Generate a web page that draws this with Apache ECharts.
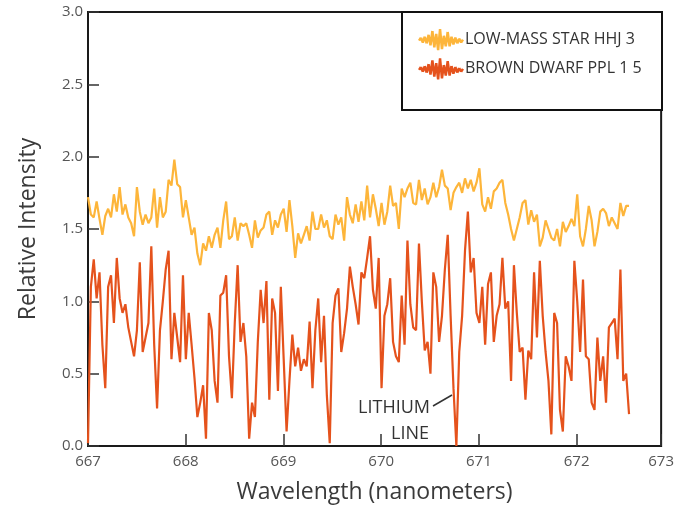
<!DOCTYPE html>
<html>
<head>
<meta charset="utf-8">
<script src="https://cdn.jsdelivr.net/npm/echarts@6/dist/echarts.min.js"></script>
<style>html,body{margin:0;padding:0;background:#fff}#c{width:677px;height:515px}</style>
</head>
<body>
<div id="c"></div>
<script>
// Sampling grid of the spectra (nm)
const waveStart = 667.0;
const waveStep = 0.02945;

const lowMassStar = [
1.72,1.60,1.58,1.69,1.57,1.46,1.59,1.64,1.58,1.74,1.62,1.79,1.60,1.67,1.58,1.54,1.45,1.79,1.62,1.53,1.60,1.54,1.58,1.78,1.51,1.72,1.58,1.62,1.84,1.80,1.98,1.81,1.79,1.58,1.70,
1.58,1.46,1.51,1.33,1.25,1.40,1.35,1.45,1.37,1.46,1.51,1.37,1.56,1.69,1.43,1.45,1.58,1.42,1.54,1.52,1.54,1.46,1.37,1.56,1.44,1.49,1.51,1.60,1.62,1.46,1.56,1.51,1.60,
1.64,1.48,1.70,1.52,1.30,1.47,1.40,1.46,1.52,1.42,1.62,1.50,1.50,1.60,1.51,1.56,1.45,1.43,1.60,1.53,1.58,1.42,1.72,1.60,1.54,1.67,1.55,1.69,1.56,1.80,1.58,1.74,1.64,
1.52,1.68,1.53,1.62,1.80,1.66,1.68,1.50,1.78,1.72,1.78,1.82,1.68,1.67,1.84,1.70,1.78,1.67,1.72,1.82,1.72,1.79,1.91,1.80,1.78,1.63,1.75,1.79,1.82,1.75,1.85,1.78,1.84,1.76,
1.82,1.92,1.67,1.62,1.72,1.64,1.76,1.78,1.82,1.84,1.68,1.60,1.50,1.42,1.50,1.58,1.68,1.70,1.53,1.63,1.55,1.60,1.38,1.44,1.56,1.50,1.44,1.42,1.50,1.38,1.55,1.48,1.52,
1.57,1.52,1.74,1.45,1.38,1.50,1.66,1.56,1.38,1.48,1.62,1.64,1.61,1.52,1.58,1.54,1.50,1.68,1.59,1.66,1.66
];

const brownDwarf = [
0.02,1.10,1.29,1.02,1.20,0.70,0.40,1.10,1.18,0.85,1.30,1.02,0.92,0.98,0.82,0.72,0.62,0.80,1.27,0.65,0.75,0.85,1.38,0.70,0.26,0.80,1.00,1.22,1.35,0.60,0.92,0.75,0.58,1.18,0.60,
0.92,0.70,0.47,0.20,0.30,0.42,0.05,0.92,0.80,0.45,0.30,1.04,1.06,1.18,0.62,0.33,0.85,1.25,0.72,0.85,0.62,0.05,0.30,0.20,0.72,1.08,0.85,1.14,0.32,1.02,0.92,0.38,1.10,
0.60,0.10,0.45,0.77,0.55,0.68,0.52,0.60,0.55,0.86,0.40,0.80,1.02,0.58,0.90,0.35,0.02,0.85,1.04,1.09,0.65,0.78,0.95,1.24,1.10,0.98,0.84,1.20,1.16,1.30,1.45,1.08,0.95,
1.30,0.40,0.90,0.98,1.16,0.72,0.62,0.58,1.04,0.70,1.42,0.98,0.82,0.80,1.40,1.00,0.66,0.72,0.50,1.20,1.10,0.72,0.90,1.22,1.46,0.90,0.40,0.00,0.65,0.90,1.35,1.62,1.20,1.30,
0.92,0.85,1.10,0.70,1.12,1.20,0.72,0.90,0.98,1.30,0.95,1.00,0.45,1.25,0.92,0.65,0.68,0.32,0.66,0.60,1.20,0.75,1.28,0.90,0.65,0.45,0.08,0.92,0.85,0.25,0.10,0.62,0.55,
0.45,1.28,1.00,0.65,1.15,0.62,0.60,0.30,0.25,0.75,0.45,0.62,0.30,0.82,0.85,0.88,0.60,1.22,0.45,0.50,0.22
];

const seriesNames = ['LOW-MASS STAR HHJ 3', 'BROWN DWARF PPL 1 5'];
const xTickLabels = ['667','668','669','670','671','672','673'];
const yTicks = [0, 0.5, 1.0, 1.5, 2.0, 2.5, 3.0];

const wavelengths = lowMassStar.map((_, i) => +(waveStart + i * waveStep).toFixed(4));
const pairs = arr => arr.map((v, i) => [wavelengths[i], v]);

// legend glyph: jagged spectrum stroke, built as filled quads (46 x 26 box)
const iconPts = [[0,13],[2,10],[4,15],[6,9],[8,16],[10,7],[12,18],[14,3],[16,20],[18,6],[20,23],[22,1],[24,22],[26,8],[28,19],[30,4],[32,19],[34,9],[36,17],[38,10],[40,16],[42,11],[44,15],[46,12]];
const iconW = 1.3;
let iconD = '';
for (let k = 0; k < iconPts.length - 1; k++) {
  const [x1, y1] = iconPts[k], [x2, y2] = iconPts[k + 1];
  const dx = x2 - x1, dy = y2 - y1, L = Math.hypot(dx, dy);
  const nx = -dy / L * iconW, ny = dx / L * iconW;
  const f = v => v.toFixed(2);
  iconD += 'M' + f(x1 + nx) + ',' + f(y1 + ny) + ' L' + f(x2 + nx) + ',' + f(y2 + ny) +
           ' L' + f(x2 - nx) + ',' + f(y2 - ny) + ' L' + f(x1 - nx) + ',' + f(y1 - ny) + ' Z ';
}
const iconPath = 'path://' + iconD;

const font = "'Open Sans', 'Liberation Sans', sans-serif";
const chart = echarts.init(document.getElementById('c'), null, {renderer: 'canvas'});
chart.setOption({
  animation: false,
  backgroundColor: '#fff',
  grid: {left: 88, right: 15, top: 12, bottom: 69, show: true, borderColor: '#1a1a1a', borderWidth: 2, backgroundColor: 'transparent'},
  xAxis: {
    type: 'value', min: 667, max: 672.865, interval: 1,
    name: 'Wavelength (nanometers)', nameLocation: 'middle', nameGap: 35,
    nameTextStyle: {fontFamily: font, fontSize: 23, color: '#3a3a3a'},
    axisLine: {show: true, onZero: false, lineStyle: {color: '#1a1a1a', width: 2}},
    axisTick: {show: true, inside: true, length: 12, lineStyle: {color: '#333', width: 1.5}},
    axisLabel: {fontFamily: font, fontSize: 15, color: '#555', margin: 8, showMaxLabel: true, showMinLabel: true,
      formatter: v => v > 672.5 ? xTickLabels[6] : xTickLabels[Math.round(v - 667)]},
    splitLine: {show: false}
  },
  yAxis: {
    type: 'value', min: yTicks[0], max: yTicks[yTicks.length - 1], interval: 0.5,
    name: 'Relative Intensity', nameLocation: 'middle', nameGap: 48,
    nameTextStyle: {fontFamily: font, fontSize: 23, color: '#3a3a3a'},
    axisLine: {show: true, lineStyle: {color: '#1a1a1a', width: 2}},
    axisTick: {show: true, inside: true, length: 11, lineStyle: {color: '#333', width: 1.5}},
    axisLabel: {fontFamily: font, fontSize: 15, color: '#555', margin: 5, formatter: v => v.toFixed(1)},
    splitLine: {show: false}
  },
  legend: {
    orient: 'vertical', left: 418, top: 29, padding: 0,
    itemWidth: 46, itemHeight: 26, itemGap: 8,
    itemStyle: {borderWidth: 0},
    textStyle: {fontFamily: font, fontSize: 16, color: '#333', padding: [0, 0, 0, -4]},
    data: [{name: seriesNames[0], icon: iconPath}, {name: seriesNames[1], icon: iconPath}],
    z: 20
  },
  graphic: [
    {type: 'rect', z: 10, shape: {x: 402, y: 12, width: 260, height: 98}, style: {fill: '#fff', stroke: '#111', lineWidth: 2}},
    {type: 'text', z: 10, style: {text: 'LITHIUM', x: 430, y: 408, textAlign: 'right', textVerticalAlign: 'middle', font: "18px 'Open Sans', sans-serif", fill: '#333'}},
    {type: 'text', z: 10, style: {text: 'LINE', x: 429, y: 434, textAlign: 'right', textVerticalAlign: 'middle', font: "18px 'Open Sans', sans-serif", fill: '#333'}},
    {type: 'line', z: 10, shape: {x1: 433, y1: 406, x2: 452, y2: 395}, style: {stroke: '#333', lineWidth: 1.5}}
  ],
  series: [
    {name: seriesNames[0], type: 'line', data: pairs(lowMassStar), showSymbol: false, symbol: 'none',
      lineStyle: {color: '#FDB53A', width: 2.2}, itemStyle: {color: '#FDB53A'}, z: 3},
    {name: seriesNames[1], type: 'line', data: pairs(brownDwarf), showSymbol: false, symbol: 'none',
      lineStyle: {color: '#E5521C', width: 2.2}, itemStyle: {color: '#E5521C'}, z: 4}
  ]
});
</script>
</body>
</html>
